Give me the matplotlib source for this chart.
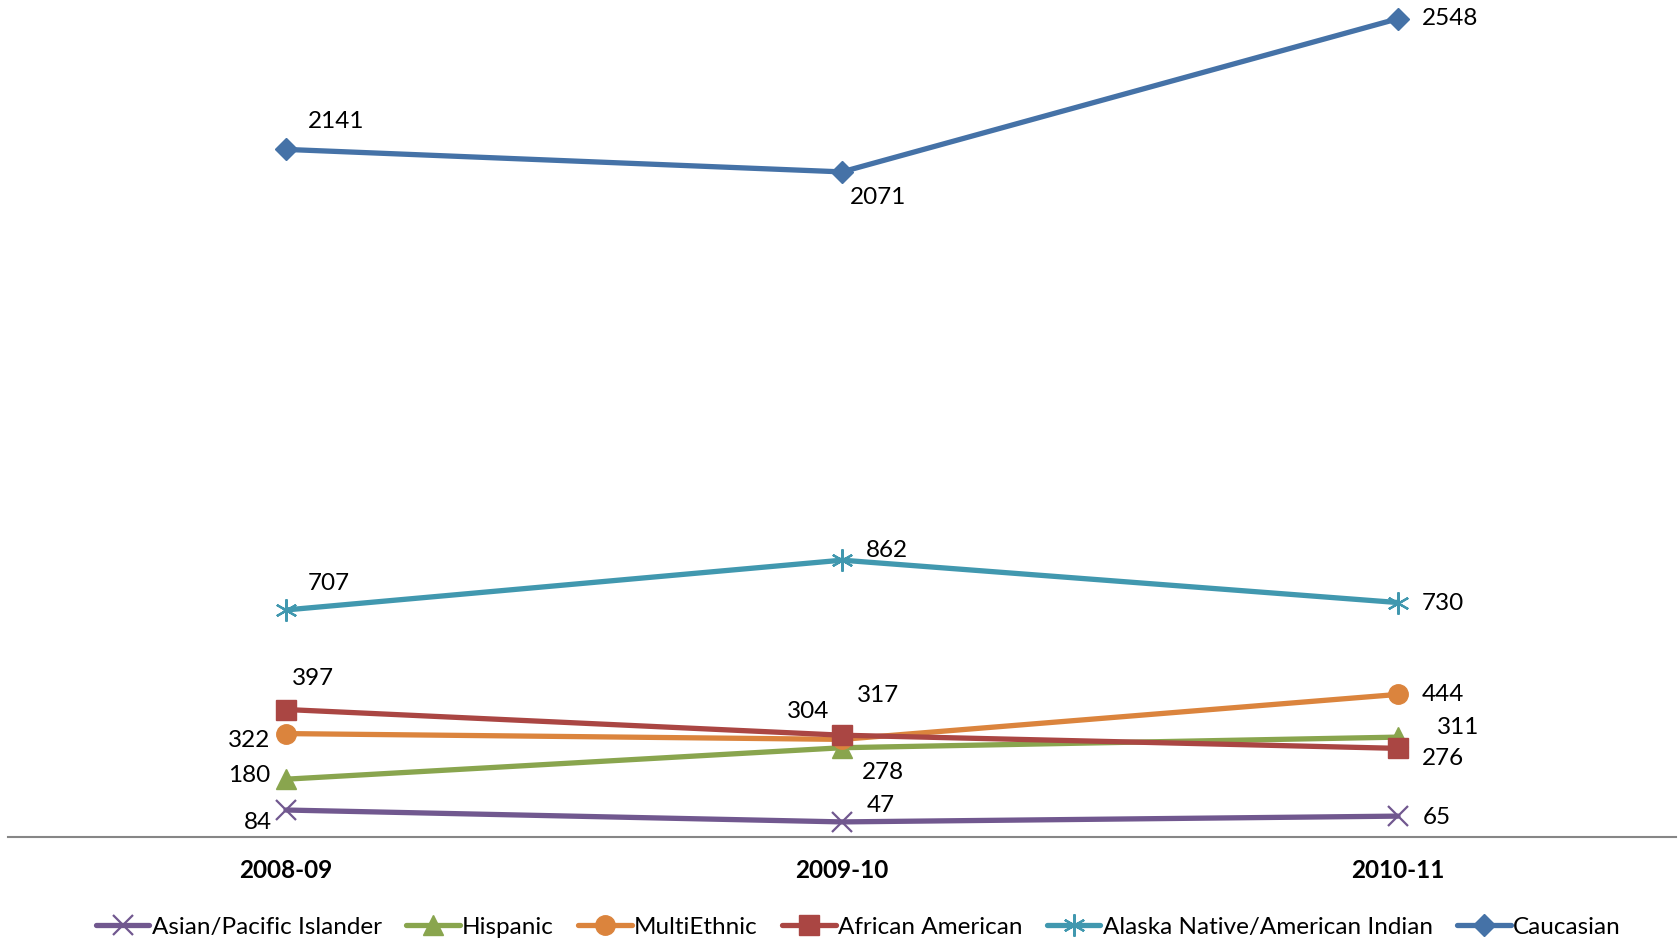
import matplotlib
matplotlib.use("Agg")
import matplotlib.pyplot as plt

years = ["2008-09", "2009-10", "2010-11"]
series_names = ["Asian/Pacific Islander", "Hispanic", "MultiEthnic",
                "African American", "Alaska Native/American Indian", "Caucasian"]
asian = [84, 47, 65]
hispanic = [180, 278, 311]
multiethnic = [322, 304, 444]
african_american = [397, 317, 276]
alaska_native = [707, 862, 730]
caucasian = [2141, 2071, 2548]

values = [asian, hispanic, multiethnic, african_american, alaska_native, caucasian]
colors = ["#71588F", "#89A54E", "#DB843D", "#AA4643", "#4198AF", "#4572A7"]
markers = ["x", "^", "o", "s", (6, 2, 0), "D"]
msizes = [14, 14, 14, 14, 16, 11]
# label offsets in pixels (dx, dy) per series/point
offsets = [
    [(-28, -12), (39, 16), (39, -1)],
    [(-37, 4), (41, -25), (60, 10)],
    [(-37, -7), (-34, 28), (45, 0)],
    [(27, 31), (36, 40), (45, -10)],
    [(43, 26), (45, 10), (45, -1)],
    [(50, 28), (36, -26), (52, 0)],
]

plt.rcParams['font.family'] = ['Lato', 'DejaVu Sans']
fig = plt.figure(figsize=(16.78, 9.4), dpi=100)
ax = fig.add_axes([8 / 1678, 103 / 940, 1668 / 1678, 835 / 940])
x = list(range(len(years)))
for name, vals, c, m, ms, offs in zip(series_names, values, colors, markers, msizes, offsets):
    mew = 1.6 if m in ("x", (6, 2, 0)) else 1
    ax.plot(x, vals, color=c, lw=3.8, marker=m, markersize=ms, markeredgewidth=mew,
            markerfacecolor=c, markeredgecolor=c, label=name, solid_capstyle='round')
    for xi, v, (dx, dy) in zip(x, vals, offs):
        ax.annotate(str(v), (xi, v), xytext=(dx, dy), textcoords='offset pixels',
                    ha='center', va='center', fontsize=17.5, color='black')

ax.set_xlim(-0.5, 2.5)
ax.set_ylim(0, 2600)
ax.set_xticks(x)
ax.set_xticklabels(years, fontsize=17.5, fontweight='bold')
ax.tick_params(axis='x', length=0, pad=16)
ax.set_yticks([])
for s in ["top", "left", "right"]:
    ax.spines[s].set_visible(False)
ax.spines["bottom"].set_color("#868686")
ax.spines["bottom"].set_linewidth(1.5)

leg = ax.legend(loc='center', ncol=6, frameon=False, fontsize=17.5, handlelength=2.2,
                handletextpad=0.1, columnspacing=1.0, borderaxespad=0,
                bbox_to_anchor=(0.5115, (940 - 927) / 940), bbox_transform=fig.transFigure)

fig.savefig("out.png", dpi=100)
